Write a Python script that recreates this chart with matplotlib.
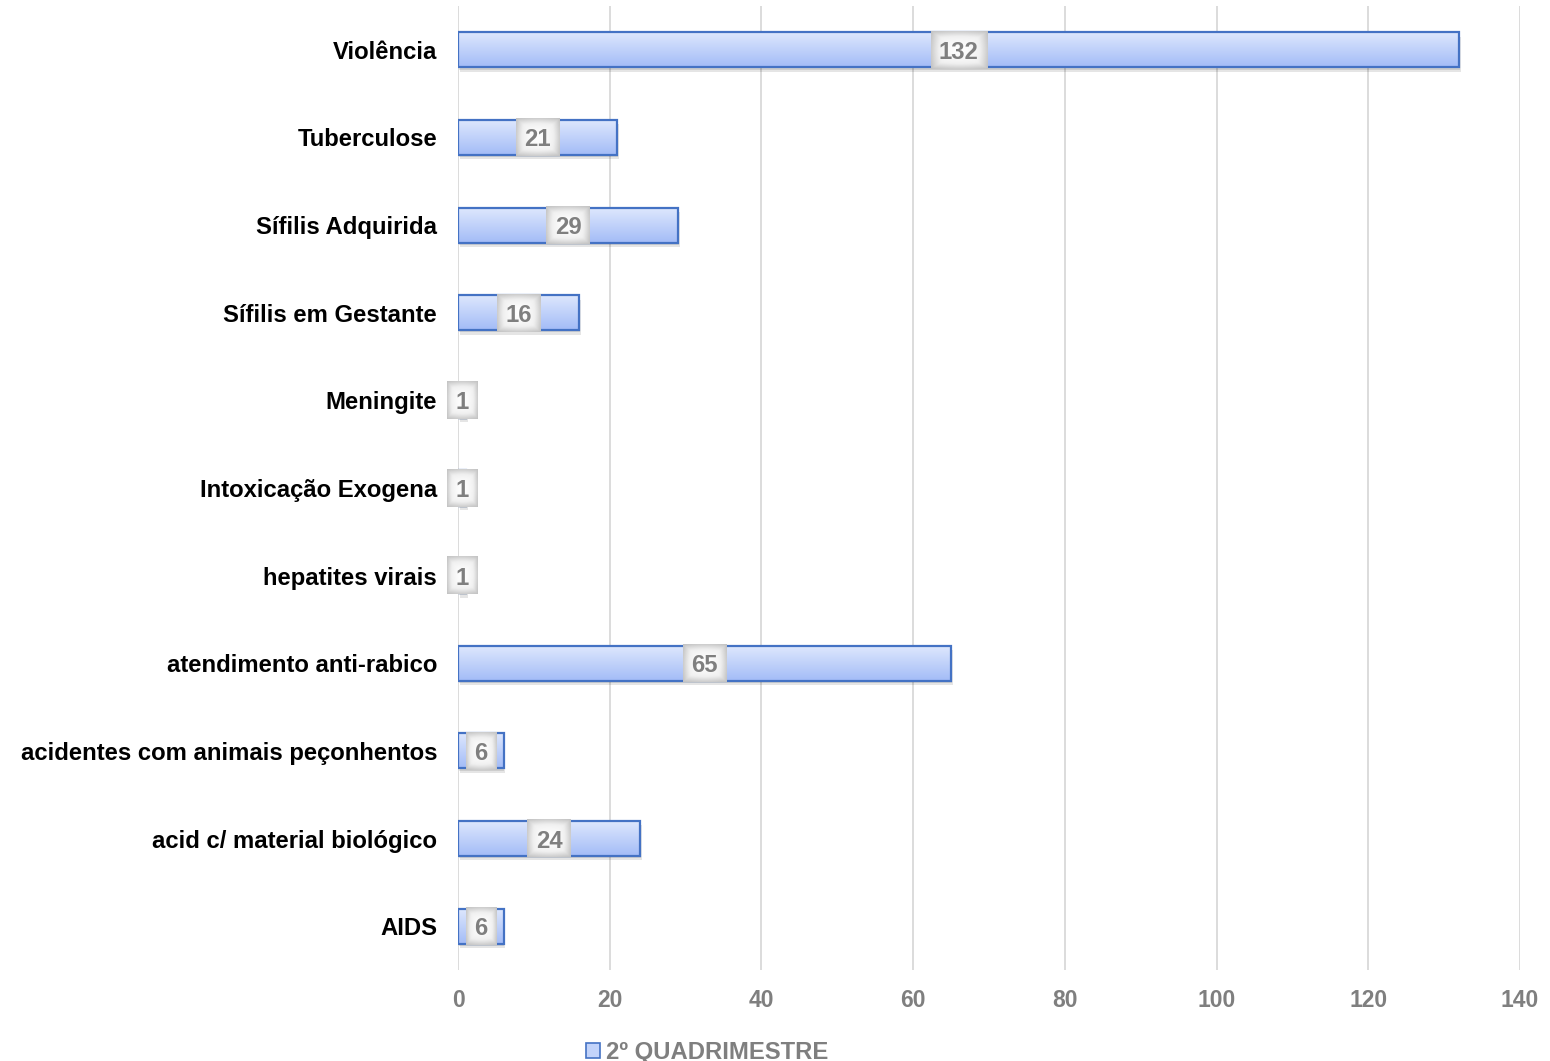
import numpy as np
import matplotlib
matplotlib.use("Agg")
import matplotlib.pyplot as plt
from matplotlib.patches import Rectangle

plt.rcParams['font.family'] = ['Liberation Sans', 'DejaVu Sans']

# data, bottom to top as drawn
categories = ["AIDS", "acid c/ material biológico", "acidentes com animais peçonhentos",
              "atendimento anti-rabico", "hepatites virais", "Intoxicação Exogena",
              "Meningite", "Sífilis em Gestante", "Sífilis Adquirida", "Tuberculose", "Violência"]
values = [6, 24, 6, 65, 1, 1, 1, 16, 29, 21, 132]
xticks = [0, 20, 40, 60, 80, 100, 120, 140]
series_name = "2º QUADRIMESTRE"

FS = 17.2
fig = plt.figure(figsize=(15.5, 10.61), dpi=100)
ax = fig.add_axes([0.2955, 0.0858, 0.6852, 0.9085])

ypos = np.arange(len(categories))
h = 0.4
grad = np.linspace(0, 1, 64).reshape(-1, 1)
cmap = matplotlib.colors.LinearSegmentedColormap.from_list("bar", ["#a3bcf7", "#dfe8fd"])

# radial gray gradient for the value boxes
gx, gy = np.meshgrid(np.linspace(-1, 1, 60), np.linspace(-1, 1, 60))
r = np.clip(np.maximum(np.abs(gx), np.abs(gy)) ** 2 * 0.6 + np.hypot(gx, gy) * 0.25, 0, 1)
boxcmap = matplotlib.colors.LinearSegmentedColormap.from_list("box", ["#ffffff", "#f0f0f0", "#bdbdbd"])

px = 140 / 1062.0  # data units per pixel along x
for y, v in zip(ypos, values):
    # shadow
    ax.add_patch(Rectangle((0.25, y - h/2 - 0.05), v, h, facecolor="#000000", alpha=0.10,
                           edgecolor="none", zorder=2))
    ax.add_patch(Rectangle((0.12, y - h/2 - 0.025), v, h, facecolor="#000000", alpha=0.10,
                           edgecolor="none", zorder=2))
    ax.imshow(grad, cmap=cmap, aspect="auto", extent=[0, v, y - h/2, y + h/2],
              origin="lower", zorder=3, interpolation="bicubic")
    ax.add_patch(Rectangle((0, y - h/2), v, h, facecolor="none", edgecolor="#4472c4",
                           linewidth=1.6, zorder=4))
    w = (13.1 * len(str(v)) + 17) * px
    bh = 0.43
    im = ax.imshow(r, cmap=boxcmap, vmin=0, vmax=1, aspect="auto",
                   extent=[v/2 - w/2, v/2 + w/2, y - bh/2, y + bh/2], zorder=5,
                   interpolation="bicubic")
    im.set_clip_on(False)
    ax.text(v / 2, y, str(v), ha="center", va="center_baseline", fontsize=FS,
            fontweight="bold", color="#7f7f7f", zorder=6)

ax.set_xlim(0, 140)
ax.set_ylim(-0.5, 10.5)
ax.set_xticks(xticks)
ax.set_yticks(ypos)
ax.set_yticklabels(categories, fontsize=FS, fontweight="bold", color="black")
for lbl in ax.get_xticklabels():
    lbl.set_fontsize(16.5)
    lbl.set_fontweight("bold")
    lbl.set_color("#7f7f7f")
ax.tick_params(length=0)
ax.tick_params(axis="y", pad=15)
ax.tick_params(axis="x", pad=14)
ax.grid(axis="x", color="#d9d9d9", linewidth=1.3, zorder=0)
ax.set_axisbelow(True)
for s in ax.spines.values():
    s.set_visible(False)

handle = Rectangle((0, 0), 1, 1, facecolor="#c2d3fa", edgecolor="#4472c4", linewidth=1.2)
leg = fig.legend([handle], [series_name], loc="lower center", bbox_to_anchor=(0.456, -0.023),
                 frameon=False, handlelength=0.6, handleheight=0.6, handletextpad=0.25,
                 prop=dict(size=FS, weight="bold"))
for t in leg.get_texts():
    t.set_color("#7f7f7f")

fig.savefig("out.png", dpi=100)
